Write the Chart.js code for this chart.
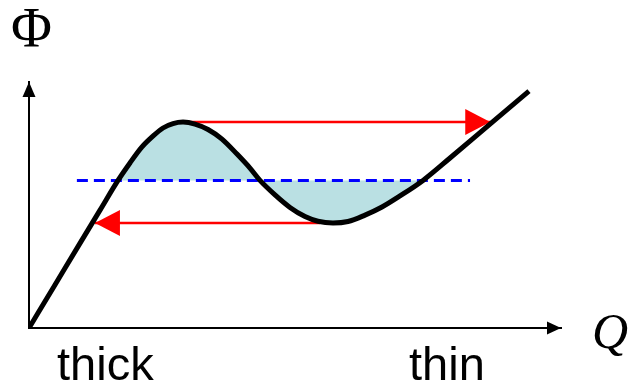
<!DOCTYPE html>
<html>
<head>
<meta charset="utf-8">
<script src="https://cdn.jsdelivr.net/npm/chart.js@4"></script>
<style>
  html, body { margin: 0; padding: 0; background: #fff; }
  canvas { display: block; }
</style>
</head>
<body>
<canvas id="loopChart" width="634" height="390"></canvas>
<script>
// S-shaped curve Phi(Q) (Q and Phi on 0..100)
const curveQ   = [0, 4.9, 9.6, 13.35, 16.73, 18.98, 21.24, 23.31, 25.19, 27.07, 28.95, 31.2, 33.65, 36.28, 39.1, 41.54, 43.42, 46.24, 49.06, 51.88, 54.32, 57.14, 59.96, 63.16, 66.35, 69.74, 74.06, 79.14, 86.65, 93.98];
const curvePhi = [0, 17.6, 34.5, 47.9, 60, 67.1, 73.6, 78.0, 81.3, 83.1, 83.7, 82.9, 80.7, 76.8, 70.7, 65.0, 60, 54.1, 49.0, 45.3, 43.4, 42.7, 43.3, 45.9, 49.2, 53.7, 60, 69.1, 82.9, 96.3];

// equal-area level (dashed)
const levelQ = [9.0, 82.9];
const levelPhi = 60;

// jumps: thick -> thin at the peak, thin -> thick at the trough
const upQ = [28.95, 86.7];
const upPhi = 83.7;
const downQ = [54.7, 12.4];
const downPhi = 42.7;

const axisLabels = { y: 'Φ', x: 'Q', left: 'thick', right: 'thin' };

const pts = (xs, ys) => xs.map((x, i) => ({ x: x, y: Array.isArray(ys) ? ys[i] : ys }));

// shaded part lies between the first and last crossing of the level
const first = curvePhi.indexOf(levelPhi);
const last = curvePhi.lastIndexOf(levelPhi);

const decor = {
    id: 'decor',
    afterDatasetDraw(chart, args) {
        const ds = chart.data.datasets[args.index];
        if (!ds.arrow) return;
        const meta = args.meta.data;
        const a = meta[meta.length - 2], b = meta[meta.length - 1];
        const dx = b.x - a.x, dy = b.y - a.y;
        const len = Math.hypot(dx, dy);
        const ux = dx / len, uy = dy / len;
        const c = chart.ctx;
        c.save();
        c.fillStyle = ds.borderColor;
        c.beginPath();
        c.moveTo(b.x, b.y);
        c.lineTo(b.x - ux * 25 - uy * 13, b.y - uy * 25 + ux * 13);
        c.lineTo(b.x - ux * 25 + uy * 13, b.y - uy * 25 - ux * 13);
        c.closePath();
        c.fill();
        c.restore();
    },
    afterDraw(chart) {
        const c = chart.ctx;
        const area = chart.chartArea;
        c.save();
        c.fillStyle = '#000';
        // axis arrow heads
        c.beginPath();
        c.moveTo(area.right, area.bottom);
        c.lineTo(area.right - 14, area.bottom - 6.5);
        c.lineTo(area.right - 14, area.bottom + 6.5);
        c.closePath();
        c.fill();
        c.beginPath();
        c.moveTo(area.left, area.top);
        c.lineTo(area.left - 6.5, area.top + 15);
        c.lineTo(area.left + 6.5, area.top + 15);
        c.closePath();
        c.fill();
        // labels
        c.textBaseline = 'alphabetic';
        c.font = '56px "Liberation Serif"';
        c.fillText(axisLabels.y, 11, 47);
        c.font = 'italic 50px "Liberation Serif"';
        c.fillText(axisLabels.x, 592, 348);
        c.font = '47px "Liberation Sans"';
        c.fillText(axisLabels.left, 57, 380);
        c.fillText(axisLabels.right, 409, 380);
        c.restore();
    }
};

const ctx = document.getElementById('loopChart').getContext('2d');
const loopChart = new Chart(ctx, {
    type: 'line',
    data: {
        datasets: [
            {
                data: pts(curveQ.slice(first, last + 1), curvePhi.slice(first, last + 1)),
                borderWidth: 0,
                borderColor: 'rgba(0,0,0,0)',
                backgroundColor: '#bae0e3',
                fill: { value: levelPhi },
                cubicInterpolationMode: 'monotone',
                order: 4
            },
            {
                data: pts(levelQ, levelPhi),
                borderColor: '#0000ff',
                borderWidth: 3,
                borderDash: [11, 6],
                fill: false,
                order: 3
            },
            {
                data: pts(upQ, upPhi),
                borderColor: '#ff0000',
                borderWidth: 2.5,
                fill: false,
                arrow: true,
                order: 2
            },
            {
                data: pts(downQ, downPhi),
                borderColor: '#ff0000',
                borderWidth: 2.5,
                fill: false,
                arrow: true,
                order: 2
            },
            {
                data: pts(curveQ, curvePhi),
                borderColor: '#000000',
                borderWidth: 5,
                fill: false,
                cubicInterpolationMode: 'monotone',
                order: 1
            }
        ]
    },
    options: {
        responsive: false,
        animation: false,
        layout: { padding: { left: 29, right: 73, top: 82, bottom: 62 } },
        elements: { point: { radius: 0, hoverRadius: 0 } },
        scales: {
            x: {
                type: 'linear', min: 0, max: 100,
                ticks: { display: false },
                grid: { display: false, drawTicks: false },
                border: { display: true, color: '#000', width: 2 }
            },
            y: {
                type: 'linear', min: 0, max: 100,
                ticks: { display: false },
                grid: { display: false, drawTicks: false },
                border: { display: true, color: '#000', width: 2 }
            }
        },
        plugins: {
            legend: { display: false },
            tooltip: { enabled: false }
        }
    },
    plugins: [decor]
});
</script>
</body>
</html>
